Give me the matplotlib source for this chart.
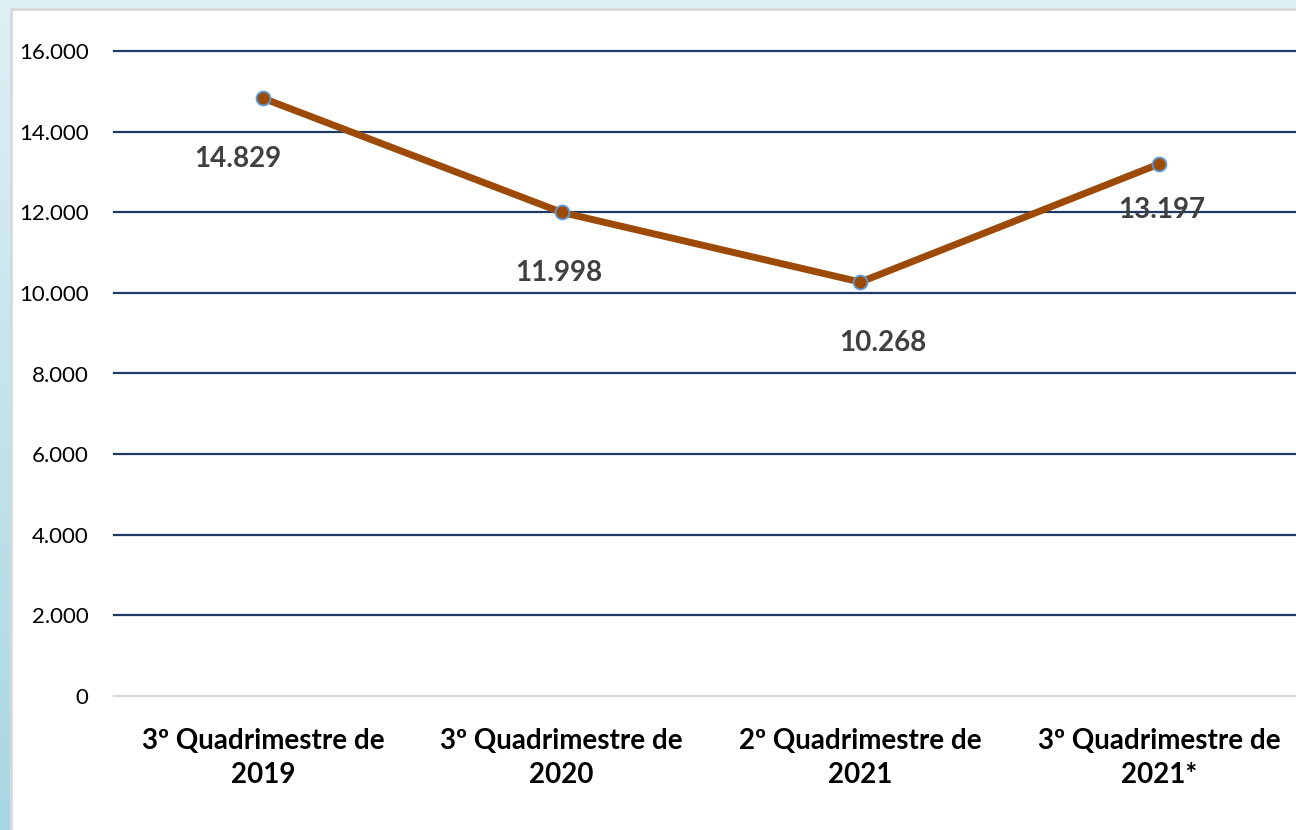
import numpy as np
import matplotlib.pyplot as plt
from matplotlib.patches import Rectangle

plt.rcParams['font.family'] = ['Lato', 'DejaVu Sans']

# data
categorias = ['3º Quadrimestre de\n2019', '3º Quadrimestre de\n2020',
              '2º Quadrimestre de\n2021', '3º Quadrimestre de\n2021*']
valores = [14829, 11998, 10268, 13197]
rotulos = ['14.829', '11.998', '10.268', '13.197']
yticks = [0, 2000, 4000, 6000, 8000, 10000, 12000, 14000, 16000]
ytick_labels = ['0', '2.000', '4.000', '6.000', '8.000', '10.000', '12.000', '14.000', '16.000']

fig = plt.figure(figsize=(12.96, 8.3), dpi=100)

# light blue gradient background behind the white card
bg = fig.add_axes([0, 0, 1, 1], zorder=-10)
grad = np.linspace(0, 1, 256).reshape(-1, 1)
top = np.array([0.87, 0.94, 0.96])
bottom = np.array([0.66, 0.84, 0.89])
img = top + (bottom - top) * grad[:, :, None]
bg.imshow(img, aspect='auto', extent=[0, 1, 0, 1], origin='upper')
bg.add_patch(Rectangle((11 / 1296, -0.01), 1.0, (830 - 9) / 830 + 0.01,
                       facecolor='white', edgecolor='#d9d9d9', linewidth=2))
bg.set_xlim(0, 1)
bg.set_ylim(0, 1)
bg.axis('off')

# main axes (extends past the right edge, as in the reference)
ax = fig.add_axes([113.5 / 1296, 134 / 830, 1195 / 1296, 645 / 830])
ax.patch.set_alpha(0)
x = np.arange(len(categorias))

for yv in yticks[1:]:
    ax.axhline(yv, color='#1f3864', linewidth=1.6, zorder=1, clip_on=False)
ax.axhline(0, color='#d9d9d9', linewidth=1.6, zorder=1, clip_on=False)

ax.plot(x, valores, color='#9c4a06', linewidth=5, marker='o', markersize=10,
        markerfacecolor='#9c4a06', markeredgecolor='#5b9bd5', markeredgewidth=1.3,
        solid_capstyle='round', zorder=3)

offsets = [(-18, -44), (-2, -44), (16, -44), (2, -33)]
for xi, v, r, off in zip(x, valores, rotulos, offsets):
    ax.annotate(r, (xi, v), xytext=off, textcoords='offset points', ha='center',
                va='center', fontsize=20, fontweight='bold', color='#404040', zorder=4)

ax.set_xlim(-0.5, 3.5)
ax.set_ylim(0, 16000)
ax.set_yticks(yticks)
ax.set_yticklabels(ytick_labels, fontsize=16, color='black')
ax.set_xticks(x)
ax.set_xticklabels(categorias, fontsize=20, fontweight='bold', color='black', linespacing=1.4)
ax.tick_params(axis='both', length=0)
ax.tick_params(axis='y', pad=18)
ax.tick_params(axis='x', pad=23)
for s in ax.spines.values():
    s.set_visible(False)

fig.savefig('out.png', dpi=100)
